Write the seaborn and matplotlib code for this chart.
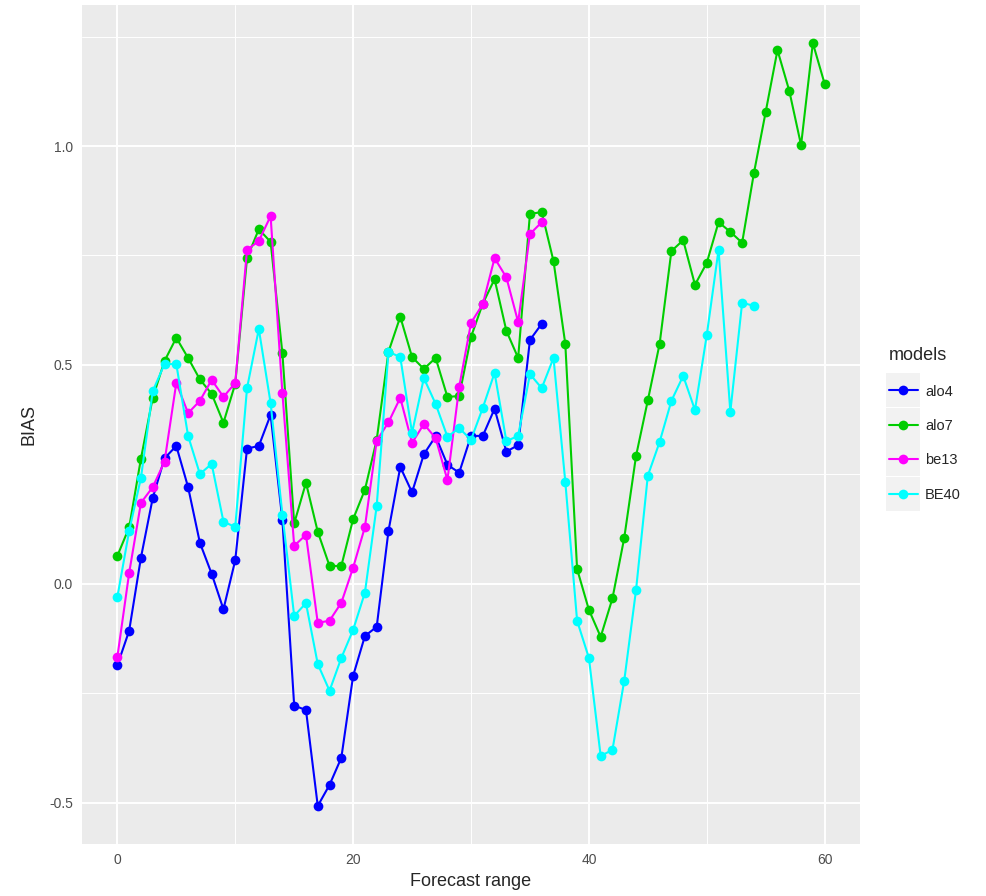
import pandas as pd
import matplotlib.pyplot as plt
import seaborn as sns
from matplotlib.ticker import MultipleLocator

# BIAS by forecast range, one list per model
alo4 = [-0.186, -0.107, 0.060, 0.196, 0.287, 0.315, 0.221, 0.094, 0.023, -0.058,
        0.054, 0.309, 0.315, 0.386, 0.146, -0.278, -0.288, -0.507, -0.459, -0.397,
        -0.210, -0.119, -0.098, 0.121, 0.267, 0.209, 0.296, 0.337, 0.272, 0.254,
        0.338, 0.338, 0.400, 0.302, 0.317, 0.557, 0.594]
alo7 = [0.064, 0.129, 0.286, 0.425, 0.509, 0.562, 0.516, 0.467, 0.434, 0.368,
        0.457, 0.744, 0.810, 0.781, 0.527, 0.138, 0.231, 0.119, 0.041, 0.041,
        0.148, 0.215, 0.329, 0.530, 0.610, 0.518, 0.491, 0.516, 0.427, 0.429,
        0.564, 0.640, 0.696, 0.578, 0.516, 0.845, 0.849, 0.737, 0.548, 0.034,
        -0.059, -0.121, -0.033, 0.105, 0.292, 0.419, 0.548, 0.760, 0.785, 0.683,
        0.733, 0.826, 0.804, 0.779, 0.938, 1.078, 1.219, 1.126, 1.002, 1.235,
        1.142]
be13 = [-0.167, 0.025, 0.185, 0.221, 0.279, 0.459, 0.390, 0.418, 0.466, 0.427,
        0.459, 0.763, 0.783, 0.840, 0.436, 0.087, 0.112, -0.089, -0.084, -0.043,
        0.037, 0.130, 0.327, 0.369, 0.425, 0.322, 0.365, 0.333, 0.237, 0.450,
        0.596, 0.639, 0.744, 0.700, 0.598, 0.799, 0.826]
BE40 = [-0.030, 0.121, 0.242, 0.440, 0.502, 0.502, 0.338, 0.251, 0.274, 0.142,
        0.130, 0.447, 0.582, 0.413, 0.158, -0.073, -0.044, -0.183, -0.244, -0.169,
        -0.105, -0.020, 0.178, 0.530, 0.518, 0.345, 0.470, 0.411, 0.336, 0.356,
        0.329, 0.402, 0.482, 0.326, 0.338, 0.479, 0.447, 0.516, 0.233, -0.084,
        -0.169, -0.393, -0.379, -0.221, -0.014, 0.247, 0.324, 0.418, 0.475, 0.397,
        0.568, 0.763, 0.393, 0.642, 0.635]

models = ["alo4", "alo7", "be13", "BE40"]
series = [alo4, alo7, be13, BE40]
colors = ["#0000FF", "#00CD00", "#FF00FF", "#00FFFF"]

frames = []
for name, vals in zip(models, series):
    frames.append(pd.DataFrame({"Forecast range": range(len(vals)),
                                "BIAS": vals, "models": name}))
df = pd.concat(frames, ignore_index=True)

sns.set_style("darkgrid", {"axes.facecolor": "#EBEBEB", "grid.color": "white"})
plt.rcParams["font.family"] = ["Liberation Sans", "DejaVu Sans"]

fig = plt.figure(figsize=(9.87, 8.96), dpi=100)
ax = fig.add_axes([82 / 987, 1 - 844 / 896, (860 - 82) / 987, (844 - 5) / 896])

sns.lineplot(data=df, x="Forecast range", y="BIAS", hue="models",
             hue_order=models, palette=colors, marker="o", markersize=7,
             markeredgewidth=0, linewidth=1.5, ax=ax)

ax.set_xlim(-3, 63)
ax.set_ylim(-0.594, 1.322)
ax.set_xticks([0, 20, 40, 60])
ax.set_yticks([-0.5, 0.0, 0.5, 1.0])
ax.set_yticklabels(["-0.5", "0.0", "0.5", "1.0"])
ax.xaxis.set_minor_locator(MultipleLocator(10))
ax.yaxis.set_minor_locator(MultipleLocator(0.25))
ax.grid(which="major", color="white", linewidth=1.4)
ax.grid(which="minor", color="white", linewidth=0.7)
ax.tick_params(which="major", length=3.5, width=0.8, color="#333333",
               labelsize=10, labelcolor="#4D4D4D", pad=3)
ax.tick_params(which="minor", length=0)
for s in ax.spines.values():
    s.set_visible(False)
ax.set_xlabel("Forecast range", fontsize=13, labelpad=4)
ax.set_ylabel("BIAS", fontsize=13, labelpad=8)

handles, labels = ax.get_legend_handles_labels()
leg = ax.legend(handles, labels, title="models", loc="center left",
                bbox_to_anchor=(1.02, 0.5), frameon=False, fontsize=10.5,
                title_fontsize=13, handlelength=2.0, handletextpad=0.5,
                labelspacing=1.4, alignment="left")

# grey key backgrounds like ggplot's legend keys
fig.canvas.draw()
inv = fig.transFigure.inverted()
for h in leg.legend_handles:
    bb = h.get_window_extent(fig.canvas.get_renderer())
    cx, cy = (bb.x0 + bb.x1) / 2, (bb.y0 + bb.y1) / 2
    (x0, y0) = inv.transform((cx - 17, cy - 17))
    (x1, y1) = inv.transform((cx + 17, cy + 17))
    fig.patches.append(plt.Rectangle((x0, y0), x1 - x0, y1 - y0,
                                     transform=fig.transFigure,
                                     facecolor="#F2F2F2", edgecolor="none",
                                     zorder=-1))

fig.savefig("out.png", dpi=100)
